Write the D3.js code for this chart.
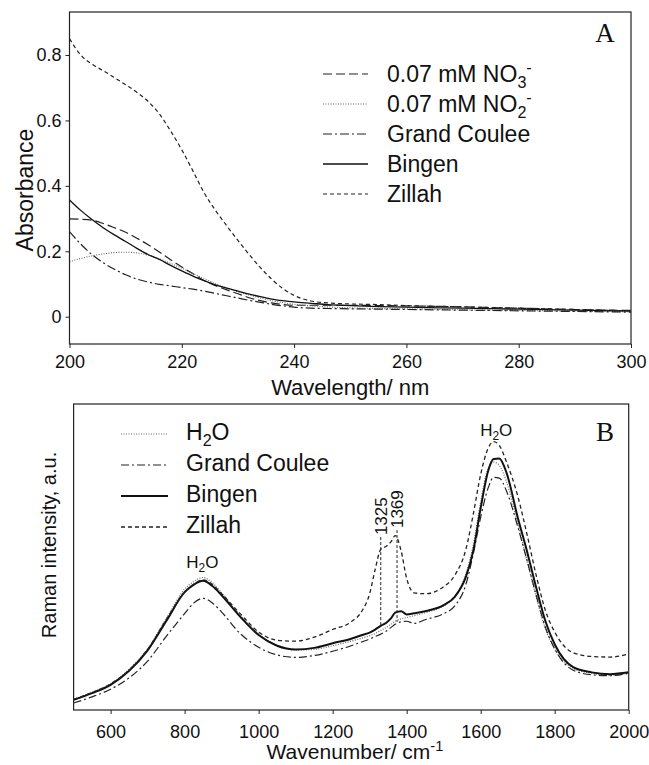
<!DOCTYPE html>
<html><head><meta charset="utf-8">
<script src="https://cdn.jsdelivr.net/npm/d3@7"></script>
<style>
body{margin:0;background:#fff;}
svg{font-family:"Liberation Sans",Arial,sans-serif;}
</style></head>
<body><svg id="c" width="649" height="765"></svg>
<script>
// ---------- Panel A data (UV absorbance) ----------
const uvWavelength = [200,202,204,206,208,210,212,214,216,218,220,222,224,226,228,230,232,234,236,238,240,243,246,250,255,260,270,280,290,300];
const uvNO3   = [0.299,0.298,0.295,0.285,0.272,0.258,0.240,0.220,0.198,0.174,0.152,0.131,0.110,0.095,0.082,0.070,0.058,0.049,0.042,0.037,0.035,0.035,0.035,0.035,0.034,0.033,0.030,0.026,0.022,0.019];
const uvNO2   = [0.168,0.178,0.186,0.192,0.196,0.197,0.195,0.188,0.177,0.163,0.148,0.132,0.116,0.101,0.088,0.076,0.066,0.057,0.049,0.043,0.038,0.033,0.030,0.027,0.025,0.024,0.021,0.019,0.017,0.015];
const uvGrandCoulee = [0.260,0.222,0.190,0.165,0.145,0.128,0.115,0.106,0.099,0.094,0.089,0.084,0.078,0.071,0.064,0.057,0.050,0.044,0.038,0.033,0.029,0.026,0.025,0.024,0.023,0.022,0.020,0.018,0.016,0.014];
const uvBingen = [0.357,0.325,0.297,0.272,0.250,0.230,0.209,0.190,0.175,0.157,0.140,0.124,0.110,0.097,0.087,0.078,0.069,0.061,0.054,0.049,0.045,0.041,0.037,0.034,0.031,0.029,0.026,0.023,0.020,0.017];
const uvZillah = [0.850,0.800,0.772,0.752,0.731,0.709,0.686,0.658,0.620,0.568,0.510,0.445,0.378,0.325,0.278,0.233,0.190,0.150,0.115,0.086,0.065,0.048,0.042,0.039,0.037,0.034,0.030,0.026,0.022,0.018];
const uvSeriesNames = ["0.07 mM NO_3^-","0.07 mM NO_2^-","Grand Coulee","Bingen","Zillah"];
const uvXTicks = [200,220,240,260,280,300];
const uvYTicks = [0,0.2,0.4,0.6,0.8];

// ---------- Panel B data (Raman) ----------
const ramanWavenumber = [500,550,600,650,700,750,800,825,850,875,900,950,1000,1050,1100,1150,1200,1250,1280,1300,1315,1330,1345,1358,1369,1385,1400,1420,1450,1500,1530,1560,1580,1600,1620,1635,1650,1670,1700,1725,1750,1775,1800,1850,1900,1950,2000];
const ramanWater = [3.5,5.8,8.6,13.3,20,29.8,39.5,42,43.3,41.5,38.3,31,24.8,21,19.6,19.8,21,22.5,23.5,24.3,25,26,27,28,29,29.8,30.2,30.8,31.8,34,37,44.5,54,68,79,81,80,74.5,61,49,37,26.5,20,13.6,12,11.4,12];
const ramanGrandCoulee = [2.3,4.3,6.8,10.5,16,24,31.5,35,36.5,35,32,25,20.5,18,17.2,17.8,19.2,21,22.3,23.2,24,24.8,25.8,27,28,28.8,29,28.3,29.5,31.5,34,41,51,63,72.5,76,75.8,71.5,60,49,37.5,27,20,13,11.5,11.2,12];
const ramanBingen = [3.3,5.5,8.2,12.8,19.5,29,38.5,41,42.2,40.5,37.5,30.5,24.5,21,19.8,20.3,21.8,23.3,24.5,25.3,26.3,27.5,28.5,30,31.8,32.3,31.2,31.6,32.3,34.3,37,43.5,52,66,78,82,82.2,77.5,63,52,40,29,21.5,14,12.3,11.7,12.3];
const ramanZillah = [3.5,5.7,8.5,13,19.8,29.5,38.5,41.2,42.5,41,38,31.5,25.5,22.8,22.5,23.8,26.3,28.8,32.5,38,46,52.5,53.5,55,57,52,43,38.3,38,40.3,44,52.5,64,77,85.5,87.7,86.5,81,70,57.5,44,32.5,25.5,18.7,17.5,17.3,18.3];
const ramanSeriesNames = ["H_2O","Grand Coulee","Bingen","Zillah"];
const ramanXTicks = [600,800,1000,1200,1400,1600,1800,2000];
const ramanPeakLabels = ["1325","1369"];
const ramanPeakPos = [1330,1374];
const ramanPeakTop = [56.5,58.8];
const ramanPeakBottom = [27.8,28.8];
const ramanWaterLabelPos = [[848,46.4],[1642,89.5]];

// ---------- drawing ----------
const svg = d3.select("#c");
const FONT = '"Liberation Sans",Arial,sans-serif';
const SERIF = '"Liberation Serif","Times New Roman",serif';

function rich(sel, str){
  // "_x" = subscript char, "^x" = superscript char
  let i=0, buf="";
  const flush=()=>{ if(buf){ sel.append("tspan").text(buf); buf=""; } };
  while(i<str.length){
    const ch=str[i];
    if((ch==="_"||ch==="^") && i+1<str.length){
      flush();
      const sub = ch==="_";
      sel.append("tspan").attr("font-size","0.7em")
        .attr("baseline-shift", sub ? "-0.35em" : "0.55em")
        .text(str[i+1]);
      i+=2;
    } else { buf+=ch; i++; }
  }
  flush();
}

// ===== Panel A =====
const A = {l:69.5, r:631, t:12, b:344};
const xA = d3.scaleLinear().domain([200,300]).range([A.l,A.r]);
const yA = d3.scaleLinear().domain([-0.0835,0.9315]).range([A.b,A.t]);
const gA = svg.append("g");
const defs = svg.append("defs");
defs.append("clipPath").attr("id","clipA").append("rect")
  .attr("x",A.l).attr("y",A.t).attr("width",A.r-A.l).attr("height",A.b-A.t);

const uvSeries = [uvNO3,uvNO2,uvGrandCoulee,uvBingen,uvZillah];
const uvStyles = [
  {dash:"9,4", w:1.2, c:"#222"},
  {dash:"1,1.5", w:1.1, c:"#666"},
  {dash:"9,3,2,3", w:1.2, c:"#222"},
  {dash:null, w:1.3, c:"#111"},
  {dash:"4,3", w:1.2, c:"#222"}
];
const lineA = d3.line().x((d,i)=>xA(uvWavelength[i])).y(d=>yA(d)).curve(d3.curveMonotoneX);
const linesA = gA.append("g").attr("clip-path","url(#clipA)");
uvSeries.forEach((s,k)=>{
  linesA.append("path").attr("d",lineA(s)).attr("fill","none")
    .attr("stroke",uvStyles[k].c).attr("stroke-width",uvStyles[k].w)
    .attr("stroke-dasharray",uvStyles[k].dash);
});

const axA = gA.append("g").attr("transform",`translate(0,${A.b})`)
  .call(d3.axisBottom(xA).tickValues(uvXTicks).tickSize(4).tickPadding(7).tickFormat(d3.format("d")));
const ayA = gA.append("g").attr("transform",`translate(${A.l},0)`)
  .call(d3.axisLeft(yA).tickValues(uvYTicks).tickSize(4).tickPadding(4).tickFormat(d=>d===0?"0":d3.format(".1f")(d)));
[axA,ayA].forEach(a=>{a.select(".domain").remove();a.selectAll("text").attr("font-size",18).attr("font-family",FONT).attr("fill","#111");a.selectAll("line").attr("stroke","#222");});
gA.append("rect").attr("x",A.l).attr("y",A.t).attr("width",A.r-A.l).attr("height",A.b-A.t)
  .attr("fill","none").attr("stroke","#222").attr("stroke-width",1.2);

gA.append("text").attr("x",(A.l+A.r)/2).attr("y",395).attr("text-anchor","middle").attr("font-size",22).attr("fill","#111").text("Wavelength/ nm");
gA.append("text").attr("transform","translate(33,190) rotate(-90)").attr("text-anchor","middle").attr("font-size",23).attr("fill","#111").text("Absorbance");
gA.append("text").attr("x",605).attr("y",42).attr("text-anchor","middle").attr("font-size",27)
  .attr("font-family",SERIF).attr("fill","#111").text("A");

// legend A
uvSeriesNames.forEach((n,k)=>{
  const yb = 82 + k*30;
  gA.append("line").attr("x1",323).attr("x2",368).attr("y1",yb-8).attr("y2",yb-8)
    .attr("stroke",uvStyles[k].c).attr("stroke-width",uvStyles[k].w).attr("stroke-dasharray",uvStyles[k].dash);
  const t = gA.append("text").attr("x",387).attr("y",yb).attr("font-size",23).attr("fill","#111");
  rich(t,n);
});

// ===== Panel B =====
const B = {l:73.6, r:628.7, t:404, b:710};
const xB = d3.scaleLinear().domain([500,2000]).range([B.l,B.r]);
const yB = d3.scaleLinear().domain([0,100]).range([B.b,B.t]);
const gB = svg.append("g");
defs.append("clipPath").attr("id","clipB").append("rect")
  .attr("x",B.l).attr("y",B.t).attr("width",B.r-B.l).attr("height",B.b-B.t);

const ramanSeries = [ramanWater,ramanGrandCoulee,ramanBingen,ramanZillah];
const ramanStyles = [
  {dash:"1,1.5", w:1.2, c:"#666"},
  {dash:"8,3,2,3", w:1.2, c:"#222"},
  {dash:null, w:2, c:"#111"},
  {dash:"4,3", w:1.3, c:"#222"}
];
const lineB = d3.line().x((d,i)=>xB(ramanWavenumber[i])).y(d=>yB(d)).curve(d3.curveMonotoneX);
const linesB = gB.append("g").attr("clip-path","url(#clipB)");
ramanSeries.forEach((s,k)=>{
  linesB.append("path").attr("d",lineB(s)).attr("fill","none")
    .attr("stroke",ramanStyles[k].c).attr("stroke-width",ramanStyles[k].w)
    .attr("stroke-dasharray",ramanStyles[k].dash);
});

const axB = gB.append("g").attr("transform",`translate(0,${B.b})`)
  .call(d3.axisBottom(xB).tickValues(ramanXTicks).tickSize(4).tickPadding(11).tickFormat(d3.format("d")));
axB.select(".domain").remove();
axB.selectAll("text").attr("font-size",18).attr("font-family",FONT).attr("fill","#111");
axB.selectAll("line").attr("stroke","#222");
gB.append("rect").attr("x",B.l).attr("y",B.t).attr("width",B.r-B.l).attr("height",B.b-B.t)
  .attr("fill","none").attr("stroke","#222").attr("stroke-width",1.2);

const tB = gB.append("text").attr("x",355).attr("y",759).attr("text-anchor","middle").attr("font-size",21).attr("fill","#111");
tB.append("tspan").text("Wavenumber/ cm");
tB.append("tspan").attr("font-size","0.7em").attr("baseline-shift","0.55em").text("-1");
gB.append("text").attr("transform","translate(56,545) rotate(-90)").attr("text-anchor","middle").attr("font-size",20).attr("fill","#111").text("Raman intensity, a.u.");
gB.append("text").attr("x",605).attr("y",441).attr("text-anchor","middle").attr("font-size",27)
  .attr("font-family",SERIF).attr("fill","#111").text("B");

// peak annotations
ramanPeakLabels.forEach((lab,k)=>{
  gB.append("line").attr("x1",xB(ramanPeakPos[k])).attr("x2",xB(ramanPeakPos[k]))
    .attr("y1",yB(ramanPeakTop[k])).attr("y2",yB(ramanPeakBottom[k]))
    .attr("stroke","#222").attr("stroke-width",1).attr("stroke-dasharray","3,2");
  gB.append("text").attr("transform",`translate(${xB(ramanPeakPos[k])},${yB(ramanPeakTop[k])-2}) rotate(-90)`)
    .attr("dy","0.36em").attr("font-size",17).attr("fill","#111").text(lab);
});
ramanWaterLabelPos.forEach(p=>{
  const t = gB.append("text").attr("x",xB(p[0])).attr("y",yB(p[1])).attr("text-anchor","middle").attr("font-size",17).attr("fill","#111");
  rich(t,"H_2O");
});

// legend B
ramanSeriesNames.forEach((n,k)=>{
  const yb = 440 + k*31;
  gB.append("line").attr("x1",121).attr("x2",168).attr("y1",yb-6).attr("y2",yb-6)
    .attr("stroke",ramanStyles[k].c).attr("stroke-width",ramanStyles[k].w).attr("stroke-dasharray",ramanStyles[k].dash);
  const t = gB.append("text").attr("x",186).attr("y",yb).attr("font-size",23).attr("fill","#111");
  rich(t,n);
});
</script></body></html>
